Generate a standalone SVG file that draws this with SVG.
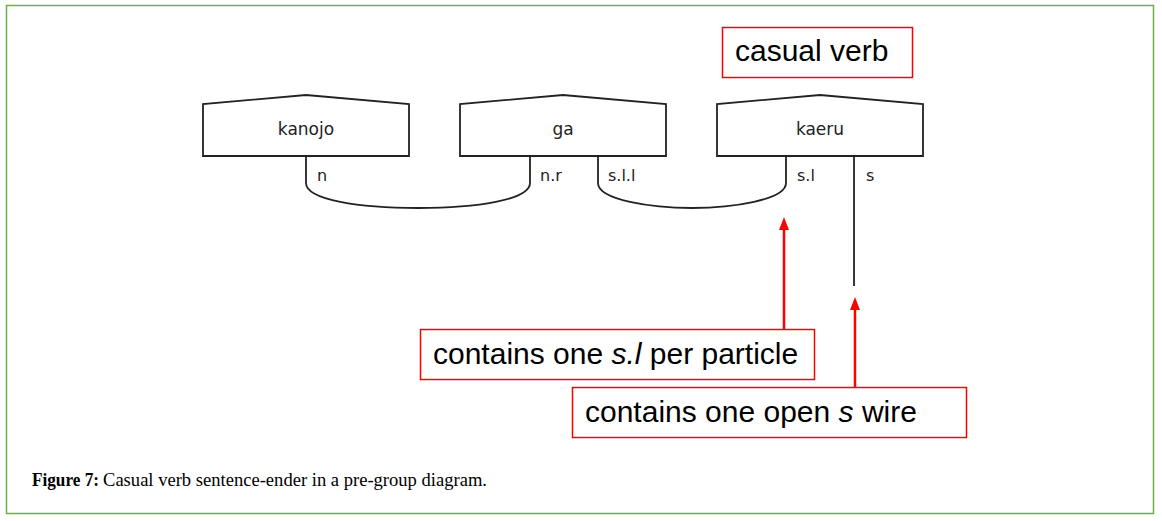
<svg xmlns="http://www.w3.org/2000/svg" width="1162" height="521" viewBox="0 0 1162 521">
<style>
.box{fill:#fff;stroke:#222;stroke-width:1.8}
.wire{fill:none;stroke:#222;stroke-width:1.8}
.lbl{font-family:"DejaVu Sans",sans-serif;font-size:17px;fill:#222}
.wl{font-family:"DejaVu Sans",sans-serif;font-size:16px;fill:#222}
.note{fill:#fff;stroke:#ff0000;stroke-width:1.5}
.nt{font-family:"Liberation Sans",Arial,sans-serif;font-size:30px;fill:#000}
.arr{stroke:#ff0000;stroke-width:2.5;fill:none}
.cap{font-family:"Liberation Serif","Times New Roman",serif;font-size:18px;fill:#000}
</style>
<defs>
<marker id="ah" markerWidth="13" markerHeight="10" refX="1" refY="5" orient="auto" markerUnits="userSpaceOnUse" viewBox="0 0 13 10">
<path d="M0,0 L13,5 L0,10 Z" fill="#ff0000"/>
</marker>
</defs>
<rect x="6.5" y="5.5" width="1147" height="508" fill="#fff" stroke="#70ad47" stroke-width="1.5"/>

<g id="kanojo">
<polygon class="box" points="203,156 203,104 306,95 409,104 409,156"/>
<text class="lbl" x="306" y="135" text-anchor="middle">kanojo</text>
</g>
<g id="ga">
<polygon class="box" points="460,156 460,104 563,95 666,104 666,156"/>
<text class="lbl" x="563" y="135" text-anchor="middle">ga</text>
</g>
<g id="kaeru">
<polygon class="box" points="717,156 717,104 820,95 923,104 923,156"/>
<text class="lbl" x="820" y="135" text-anchor="middle">kaeru</text>
</g>

<g id="connectors">
<path class="wire" d="M306,156 V183 C306,200 360,208 418,208 C476,208 530,200 530,183 V156"/>
<path class="wire" d="M598,156 V183 C598,200 652,208 692,208 C732,208 786,200 786,183 V156"/>
<path class="wire" d="M854,156 V286"/>
<path class="arr" d="M784,329 V229" marker-end="url(#ah)"/>
<path class="arr" d="M855,387 V309" marker-end="url(#ah)"/>
</g>

<g id="wire-labels">
<text class="wl" x="317" y="181">n</text>
<text class="wl" x="540" y="181">n.r</text>
<text class="wl" x="608" y="181">s.l.l</text>
<text class="wl" x="797" y="181">s.l</text>
<text class="wl" x="866" y="181">s</text>
</g>

<g id="note-casual">
<rect class="note" x="722.5" y="27.5" width="190" height="50"/>
<text class="nt" x="735" y="61">casual verb</text>
</g>
<g id="note-sl">
<rect class="note" x="420.5" y="329.5" width="394" height="50"/>
<text class="nt" x="433" y="364">contains one <tspan font-style="italic">s.l</tspan> per particle</text>
</g>
<g id="note-s">
<rect class="note" x="572.5" y="387.5" width="394" height="50"/>
<text class="nt" x="585" y="422">contains one open <tspan font-style="italic">s</tspan> wire</text>
</g>

<g id="caption">
<text class="cap" x="32" y="486" font-weight="bold" textLength="67" lengthAdjust="spacingAndGlyphs">Figure 7:</text>
<text class="cap" x="103" y="486" textLength="384" lengthAdjust="spacingAndGlyphs">Casual verb sentence-ender in a pre-group diagram.</text>
</g>
</svg>
